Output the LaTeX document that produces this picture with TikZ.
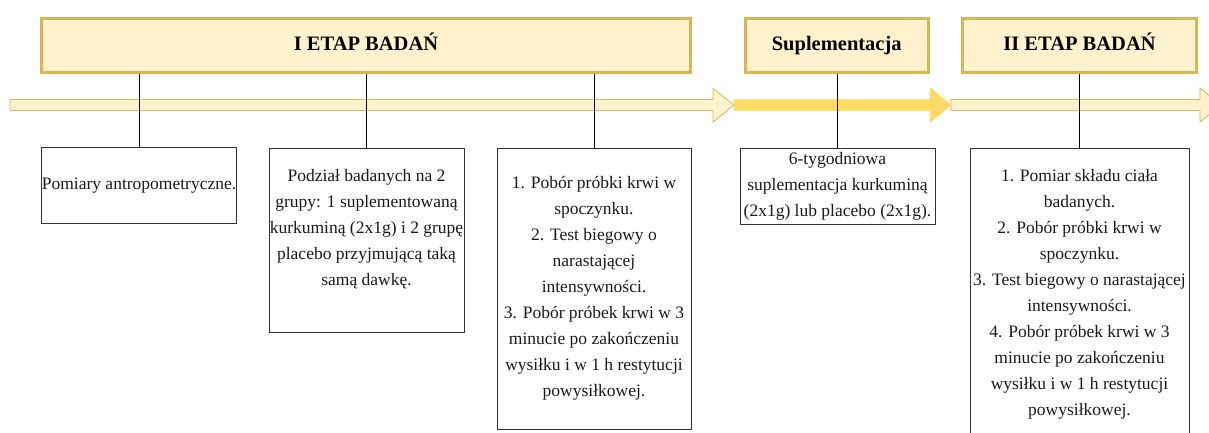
\documentclass[tikz,border=0pt]{standalone}
\usepackage{fontspec}
\setmainfont{Liberation Serif}

\definecolor{etapfill}{HTML}{FFF2CC}
\definecolor{etapline}{HTML}{D6B656}
\definecolor{supfill}{HTML}{FFD966}

\begin{document}
\begin{tikzpicture}[x=1pt,y=-1pt,
    etap/.style={rectangle,draw=etapline,fill=etapfill,line width=3pt,minimum height=54pt,text height=14pt,text depth=3pt,font=\fontsize{20.5}{24}\selectfont\bfseries},
    card/.style={rectangle,draw=black!80,line width=0.8pt,inner sep=0pt,align=center,minimum width=195pt,text=black!90,font=\fontsize{17.5}{26}\selectfont},
    lightarrow/.style={fill=etapfill,draw=etapline,line width=0.8pt},
    solidarrow/.style={fill=supfill,draw=supfill,line width=0.5pt},
    conn/.style={draw=black,line width=0.8pt}]

  \useasboundingbox (0,0) rectangle (1209,432);
  \clip (0,0) rectangle (1209,432);

  % timeline
  \draw[lightarrow] (10,99.5) -- (713,99.5) -- (713,88.5) -- (734,105) -- (713,122) -- (713,110.5) -- (10,110.5) -- cycle;
  \draw[solidarrow] (734,99.5) -- (930,99.5) -- (930,87.5) -- (951,105) -- (930,122.5) -- (930,110.5) -- (734,110.5) -- cycle;
  \draw[lightarrow] (951,99.5) -- (1200,99.5) -- (1200,88) -- (1221,105) -- (1200,122) -- (1200,110.5) -- (951,110.5) -- cycle;

  % stages
  \node[etap,minimum width=649pt]   (etap1) at (366,45)    {I ETAP BADAŃ};
  \node[etap,minimum width=183.5pt] (supl)  at (836.75,45) {Suplementacja};
  \node[etap,minimum width=234pt]   (etap2) at (1079.5,45) {II ETAP BADAŃ};

  % steps
  \node[card,minimum height=76pt]  (pomiary)  at (139,185.5) {Pomiary antropometryczne.};
  \node[card,minimum height=184pt] (podzial)  at (366.5,240) {Podział badanych na 2\\ grupy: 1 suplementowaną\\ kurkuminą (2x1g) i 2 grupę\\ placebo przyjmującą taką\\ samą dawkę.\\~};
  \node[card,minimum width=194pt,minimum height=281pt] (pobor1) at (594,288.5) {1. Pobór próbki krwi w\\ spoczynku.\\ 2. Test biegowy o\\ narastającej\\ intensywności.\\ 3. Pobór próbek krwi w 3\\ minucie po zakończeniu\\ wysiłku i w 1 h restytucji\\ powysiłkowej.};
  \node[card,minimum height=76pt]  (kurkumina) at (837.5,186) {6-tygodniowa\\ suplementacja kurkuminą\\ (2x1g) lub placebo (2x1g).};
  \node[card,minimum width=219pt,minimum height=292pt] (pobor2) at (1079.5,294) {1. Pomiar składu ciała\\ badanych.\\ 2. Pobór próbki krwi w\\ spoczynku.\\ 3. Test biegowy o narastającej\\ intensywności.\\ 4. Pobór próbek krwi w 3\\ minucie po zakończeniu\\ wysiłku i w 1 h restytucji\\ powysiłkowej.};

  \path[conn] (pomiary)   edge (pomiary.north |- etap1.south)
              (podzial)   edge (podzial.north |- etap1.south)
              (pobor1)    edge (pobor1.north |- etap1.south)
              (kurkumina) edge (kurkumina.north |- supl.south)
              (pobor2)    edge (pobor2.north |- etap2.south);
\end{tikzpicture}
\end{document}
